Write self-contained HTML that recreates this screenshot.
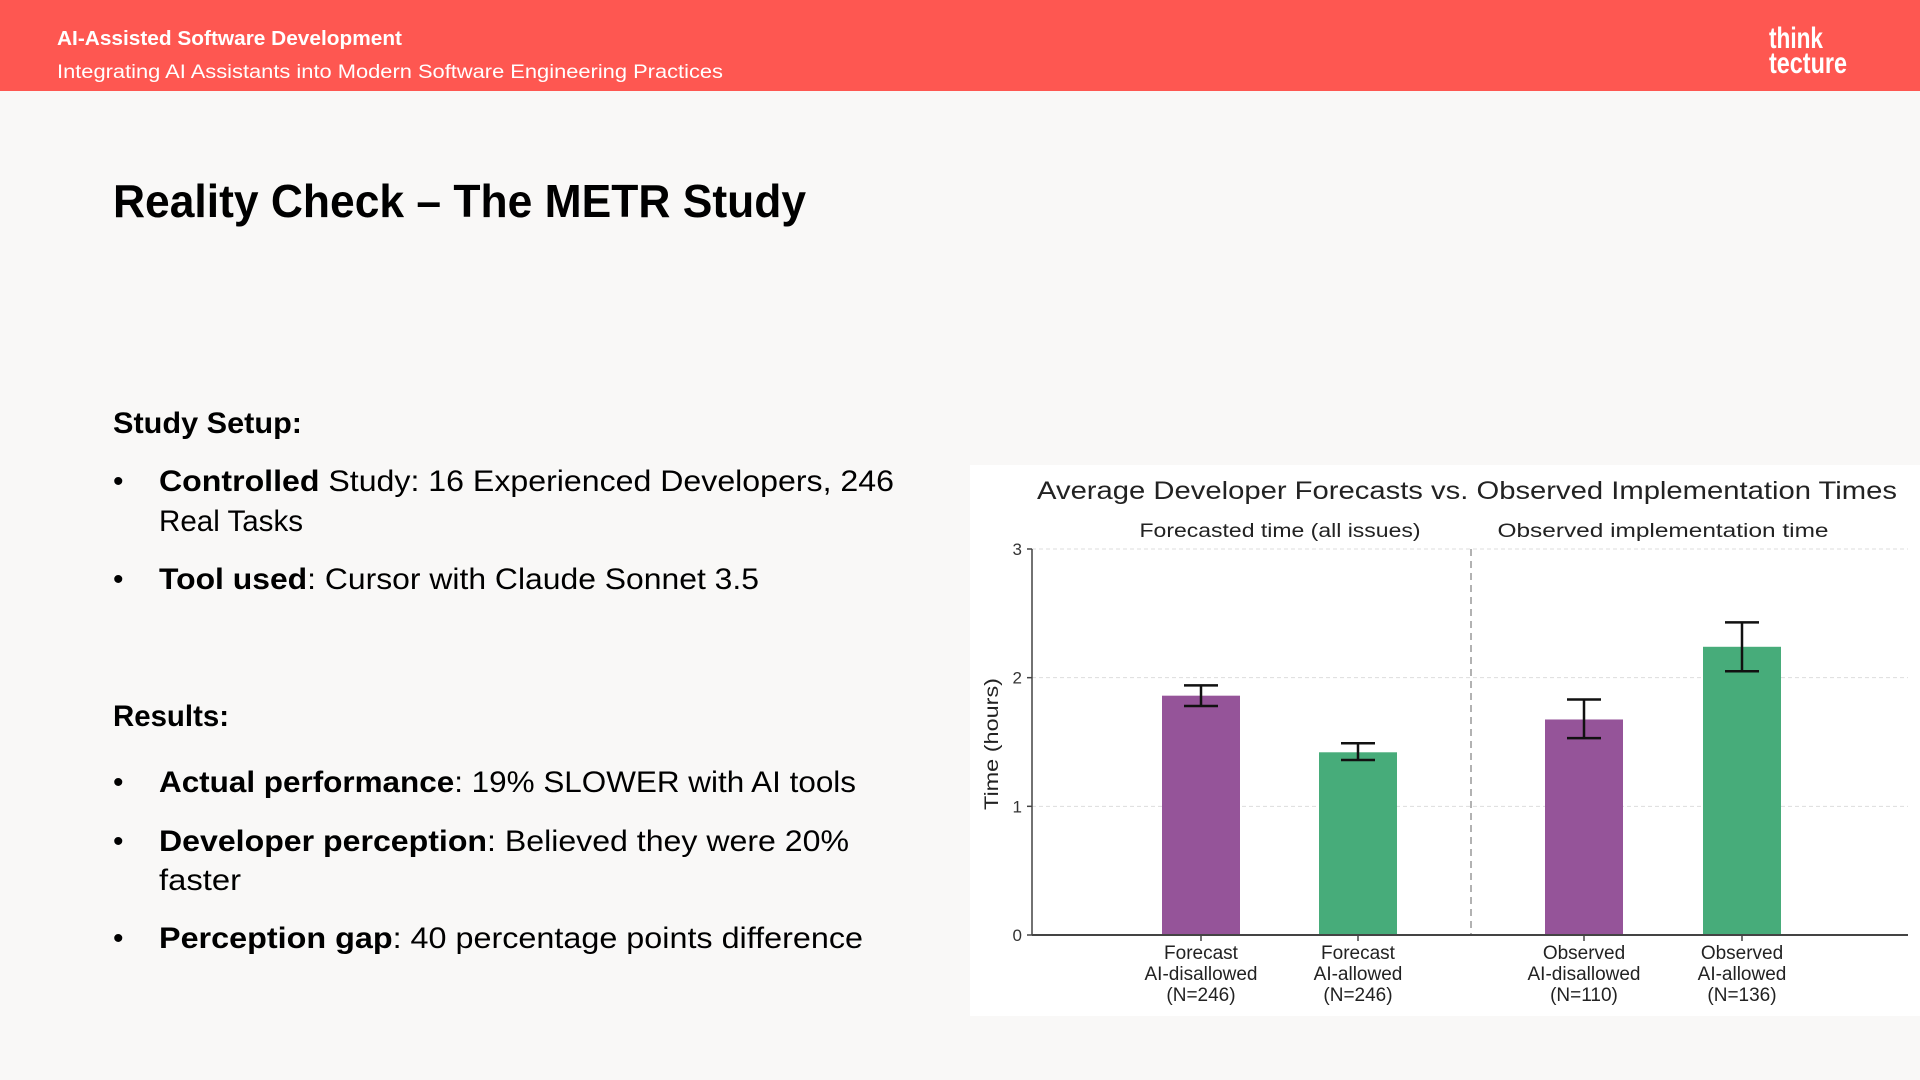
<!DOCTYPE html>
<html><head><meta charset="utf-8"><style>
html,body{margin:0;padding:0;background:#f9f8f7;}
svg{display:block;font-family:"Liberation Sans",sans-serif;}
</style></head><body>
<svg id="slide" width="1920" height="1080" viewBox="0 0 1920 1080">
<rect x="0" y="0" width="1920" height="1080" fill="#f9f8f7"/>
<g>
<rect x="0" y="0" width="1920" height="91" fill="#fe5751"/>
<text x="57" y="45" font-size="20" font-weight="bold" fill="#fff" textLength="345" lengthAdjust="spacingAndGlyphs">AI-Assisted Software Development</text>
<text x="57" y="78" font-size="19" fill="#fff" textLength="666" lengthAdjust="spacingAndGlyphs">Integrating AI Assistants into Modern Software Engineering Practices</text>
<text x="1769" y="48" font-size="30" font-weight="bold" fill="#fff" textLength="54" lengthAdjust="spacingAndGlyphs">think</text>
<text x="1769" y="73" font-size="30" font-weight="bold" fill="#fff" textLength="78" lengthAdjust="spacingAndGlyphs">tecture</text>
</g>
<text x="113" y="217" font-size="46" font-weight="bold" fill="#000" textLength="693" lengthAdjust="spacingAndGlyphs">Reality Check – The METR Study</text>
<g font-size="30" fill="#000">
<text x="113" y="433" font-weight="bold" textLength="189" lengthAdjust="spacingAndGlyphs">Study Setup:</text>
<text x="113" y="491">•</text>
<text x="159" y="491" textLength="735" lengthAdjust="spacingAndGlyphs"><tspan font-weight="bold">Controlled</tspan> Study: 16 Experienced Developers, 246</text>
<text x="159" y="531" textLength="144" lengthAdjust="spacingAndGlyphs">Real Tasks</text>
<text x="113" y="589">•</text>
<text x="159" y="589" textLength="600" lengthAdjust="spacingAndGlyphs"><tspan font-weight="bold">Tool used</tspan>: Cursor with Claude Sonnet 3.5</text>
<text x="113" y="726" font-weight="bold" textLength="116" lengthAdjust="spacingAndGlyphs">Results:</text>
<text x="113" y="792">•</text>
<text x="159" y="792" textLength="697" lengthAdjust="spacingAndGlyphs"><tspan font-weight="bold">Actual performance</tspan>: 19% SLOWER with AI tools</text>
<text x="113" y="851">•</text>
<text x="159" y="851" textLength="690" lengthAdjust="spacingAndGlyphs"><tspan font-weight="bold">Developer perception</tspan>: Believed they were 20%</text>
<text x="159" y="890" textLength="82" lengthAdjust="spacingAndGlyphs">faster</text>
<text x="113" y="948">•</text>
<text x="159" y="948" textLength="704" lengthAdjust="spacingAndGlyphs"><tspan font-weight="bold">Perception gap</tspan>: 40 percentage points difference</text>
</g>
<g id="chart">
<rect x="970" y="465" width="950" height="551" fill="#ffffff"/>
<text x="1037" y="499" font-size="25" fill="#222" textLength="860" lengthAdjust="spacingAndGlyphs">Average Developer Forecasts vs. Observed Implementation Times</text>
<text x="1280" y="537" font-size="19" fill="#222" text-anchor="middle" textLength="281" lengthAdjust="spacingAndGlyphs">Forecasted time (all issues)</text>
<text x="1663" y="537" font-size="19" fill="#222" text-anchor="middle" textLength="331" lengthAdjust="spacingAndGlyphs">Observed implementation time</text>
<text transform="translate(998,744) rotate(-90)" font-size="19" fill="#222" text-anchor="middle" textLength="132" lengthAdjust="spacingAndGlyphs">Time (hours)</text>
<g id="grid"></g>
<g id="marks"></g>
<g id="axes"></g>
</g>
</svg>
<script>
const categoriesLine1 = ["Forecast", "Forecast", "Observed", "Observed"];
const categoriesLine2 = ["AI-disallowed", "AI-allowed", "AI-disallowed", "AI-allowed"];
const categoriesLine3 = ["(N=246)", "(N=246)", "(N=110)", "(N=136)"];
const meanHours = [1.86, 1.42, 1.675, 2.24];
const errLow = [1.78, 1.36, 1.53, 2.05];
const errHigh = [1.94, 1.49, 1.83, 2.43];
const barGroup = ["disallowed", "allowed", "disallowed", "allowed"];
const yTicks = [0, 1, 2, 3];

const NS = "http://www.w3.org/2000/svg";
const X0 = 1032, X1 = 1908, Y0 = 935, Y3 = 549;
const centers = [1201, 1358, 1584, 1742];
const barW = 78;
function yScale(v){ return Y0 - (v / 3) * (Y0 - Y3); }
function xScale(i){ return centers[i]; }
function mk(tag, attrs, parent){ const e = document.createElementNS(NS, tag); for (const k in attrs) e.setAttribute(k, attrs[k]); parent.appendChild(e); return e; }
const grid = document.getElementById('grid'), marks = document.getElementById('marks'), axes = document.getElementById('axes');

yTicks.forEach(t => {
  const y = yScale(t);
  if (t > 0) {
    const g = mk('line', {x1: X0, x2: X1, y1: y, y2: y, stroke: '#ddd', 'stroke-width': 1, 'stroke-dasharray': '4,3'}, grid);
    
    
  }
  const tk = mk('line', {x1: X0 - 5, x2: X0, y1: y, y2: y, stroke: '#444', 'stroke-width': 1.5}, axes);
  
  
  const lb = mk('text', {x: X0 - 10, y: y + 6, 'font-size': 17, fill: '#333', 'text-anchor': 'end'}, axes);
  lb.textContent = t;
  
  
});

const div = mk('line', {x1: 1471, x2: 1471, y1: Y3, y2: Y0, stroke: '#999', 'stroke-width': 1.5, 'stroke-dasharray': '7,5'}, grid);



meanHours.forEach((v, i) => {
  const cx = xScale(i);
  const b = mk('rect', {x: cx - barW / 2, y: yScale(v), width: barW, height: Y0 - yScale(v), fill: barGroup[i] === 'allowed' ? '#47ac7a' : '#955499'}, marks);
  
  
  const e = mk('path', {d: 'M' + cx + ',' + yScale(errLow[i]) + 'V' + yScale(errHigh[i]) + 'M' + (cx - 17) + ',' + yScale(errLow[i]) + 'H' + (cx + 17) + 'M' + (cx - 17) + ',' + yScale(errHigh[i]) + 'H' + (cx + 17), stroke: '#111', 'stroke-width': 2.5, fill: 'none'}, marks);
  
  
  const tk = mk('line', {x1: cx, x2: cx, y1: Y0, y2: Y0 + 6, stroke: '#444', 'stroke-width': 1.5}, axes);
  
  
  const lb = mk('text', {x: cx, 'font-size': 19, fill: '#222', 'text-anchor': 'middle'}, axes);
  
  
  [categoriesLine1[i], categoriesLine2[i], categoriesLine3[i]].forEach((s, j) => {
    const ts = mk('tspan', {x: cx, y: 959 + j * 21}, lb);
    ts.textContent = s;
  });
});

const ya = mk('line', {x1: X0, x2: X0, y1: Y3, y2: Y0, stroke: '#444', 'stroke-width': 1.5}, axes);


const xa = mk('line', {x1: X0, x2: X1, y1: Y0, y2: Y0, stroke: '#444', 'stroke-width': 2}, axes);


</script>
</body></html>
